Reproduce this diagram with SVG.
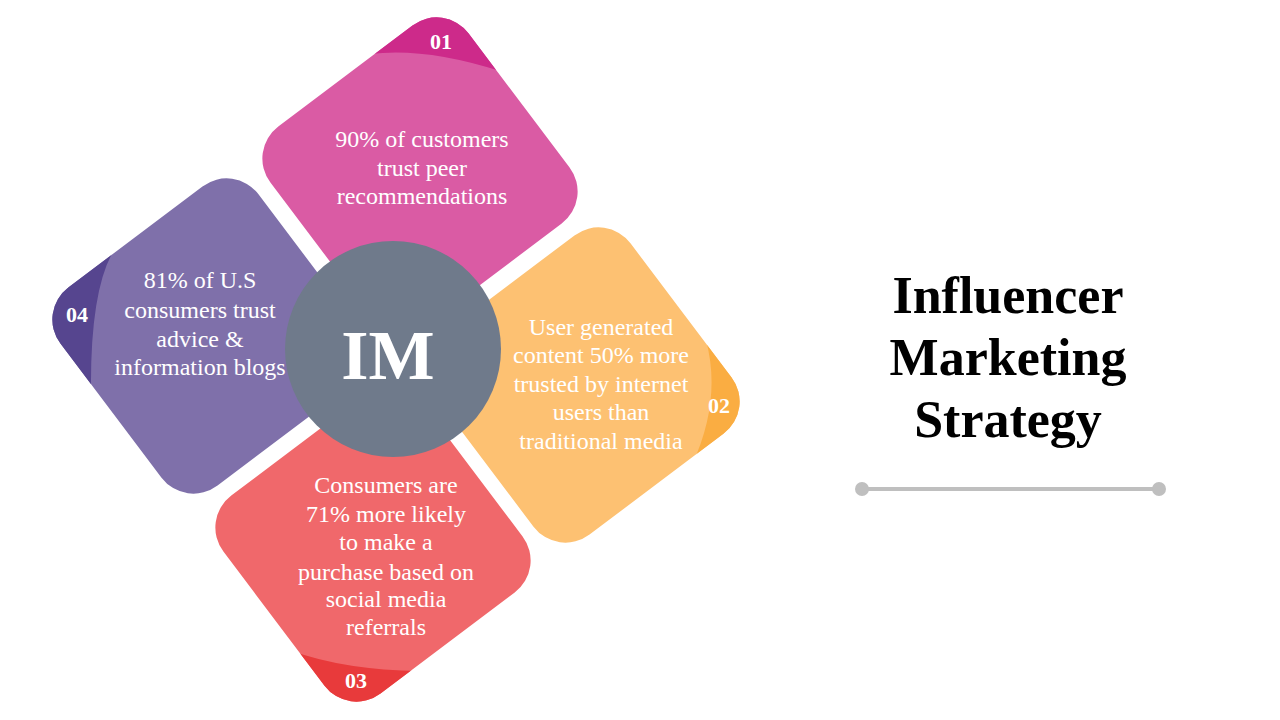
<svg xmlns="http://www.w3.org/2000/svg" xmlns:xlink="http://www.w3.org/1999/xlink" width="1280" height="720" viewBox="0 0 1280 720">
  <style>
    .body { font-family: "Liberation Serif", "Times New Roman", serif; font-size: 24px; fill: #ffffff; text-anchor: middle; }
    .num { font-family: "Liberation Serif", "Times New Roman", serif; font-size: 22px; font-weight: bold; fill: #ffffff; text-anchor: middle; }
    .title { font-family: "Liberation Serif", "Times New Roman", serif; font-size: 52px; font-weight: bold; fill: #000000; text-anchor: middle; }
    .im { font-family: "Liberation Serif", "Times New Roman", serif; font-size: 70px; font-weight: bold; fill: #ffffff; text-anchor: middle; }
  </style>
  <defs>
    <rect id="tile" x="-124" y="-124" width="248" height="248" rx="40" ry="40"/>
    <clipPath id="cp1"><use xlink:href="#tile" href="#tile" transform="translate(420 175) rotate(53)"/></clipPath>
    <clipPath id="cp2"><use xlink:href="#tile" href="#tile" transform="translate(582 385) rotate(53)"/></clipPath>
    <clipPath id="cp3"><use xlink:href="#tile" href="#tile" transform="translate(373 544) rotate(53)"/></clipPath>
    <clipPath id="cp4"><use xlink:href="#tile" href="#tile" transform="translate(210 336) rotate(53)"/></clipPath>
  </defs>
  <rect width="1280" height="720" fill="#ffffff"/>

  <g id="node-01">
    <use xlink:href="#tile" href="#tile" transform="translate(420 175) rotate(53)" fill="#DA5BA4"/>
    <path clip-path="url(#cp1)" d="M 370 54 Q 425 47 500 71 L 500 0 L 370 0 Z" fill="#CD2A8A"/>
    <text class="num" x="441" y="49">01</text>
    <text class="body" x="422" y="147">90% of customers</text>
    <text class="body" x="422" y="176">trust peer</text>
    <text class="body" x="422" y="204">recommendations</text>
  </g>

  <g id="node-02">
    <use xlink:href="#tile" href="#tile" transform="translate(582 385) rotate(53)" fill="#FDC172"/>
    <path clip-path="url(#cp2)" d="M 706 340 Q 722 400 692 465 L 780 465 L 780 340 Z" fill="#FAAD42"/>
    <text class="num" x="719" y="413">02</text>
    <text class="body" x="601" y="335">User generated</text>
    <text class="body" x="601" y="363">content 50% more</text>
    <text class="body" x="601" y="392">trusted by internet</text>
    <text class="body" x="601" y="420">users than</text>
    <text class="body" x="601" y="449">traditional media</text>
  </g>

  <g id="node-03">
    <use xlink:href="#tile" href="#tile" transform="translate(373 544) rotate(53)" fill="#F0686B"/>
    <path clip-path="url(#cp3)" d="M 292 651 Q 345 670 420 671 L 420 720 L 292 720 Z" fill="#E83A3B"/>
    <text class="num" x="356" y="688">03</text>
    <text class="body" x="386" y="493">Consumers are</text>
    <text class="body" x="386" y="522">71% more likely</text>
    <text class="body" x="386" y="550">to make a</text>
    <text class="body" x="386" y="580">purchase based on</text>
    <text class="body" x="386" y="607">social media</text>
    <text class="body" x="386" y="635">referrals</text>
  </g>

  <g id="node-04">
    <use xlink:href="#tile" href="#tile" transform="translate(210 336) rotate(53)" fill="#7F70AA"/>
    <path clip-path="url(#cp4)" d="M 114 250 Q 90 290 91 392 L 40 392 L 40 250 Z" fill="#56458F"/>
    <text class="num" x="77" y="322">04</text>
    <text class="body" x="200" y="288">81% of U.S</text>
    <text class="body" x="200" y="318">consumers trust</text>
    <text class="body" x="200" y="347">advice &amp;</text>
    <text class="body" x="200" y="375">information blogs</text>
  </g>

  <g id="node-center">
    <circle cx="393" cy="349" r="108" fill="#6F7A8B"/>
    <text class="im" x="388" y="379">IM</text>
  </g>

  <g id="title">
    <text class="title" x="1008" y="313">Influencer</text>
    <text class="title" x="1008" y="375">Marketing</text>
    <text class="title" x="1008" y="437">Strategy</text>
  </g>

  <g id="connectors">
    <line x1="862" y1="489" x2="1159" y2="489" stroke="#BFBFBF" stroke-width="4"/>
    <circle cx="862" cy="489" r="7" fill="#BFBFBF"/>
    <circle cx="1159" cy="489" r="7" fill="#BFBFBF"/>
  </g>
</svg>
